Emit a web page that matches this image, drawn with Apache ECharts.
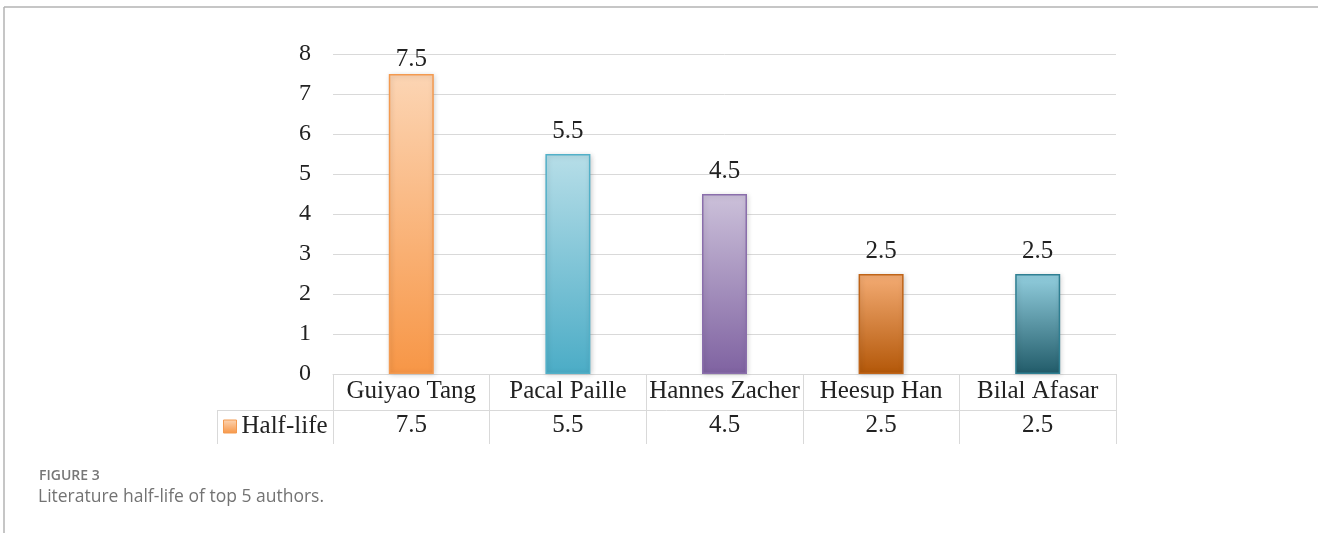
<!DOCTYPE html>
<html>
<head>
<meta charset="utf-8">
<script src="https://cdn.jsdelivr.net/npm/echarts@6/dist/echarts.min.js"></script>
<style>
html,body{margin:0;padding:0;background:#fff;}
#chart{width:1318px;height:533px;}
</style>
</head>
<body>
<div id="chart"></div>
<script>
const categories = ['Guiyao Tang', 'Pacal Paille', 'Hannes Zacher', 'Heesup Han', 'Bilal Afasar'];
const halfLife = [7.5, 5.5, 4.5, 2.5, 2.5];
const seriesName = 'Half-life';
const yTicks = [0, 1, 2, 3, 4, 5, 6, 7, 8];
const captionLabel = 'FIGURE 3';
const captionText = 'Literature half-life of top 5 authors.';

const topColors = ['#fcd5b4', '#b7dee8', '#ccc1da', '#f4ac74', '#93cfdf'];
const bottomColors = ['#f79646', '#4bacc6', '#7f62a1', '#b35708', '#215b69'];
const borderColors = ['#f39a50', '#52b0c8', '#8a6eab', '#bf6418', '#2f7f92'];

const SERIF = '"Liberation Serif", "Times New Roman", serif';
const SANS = '"Open Sans", "Noto Sans", sans-serif';

const G = {left: 333, right: 1116, top: 54, bottom: 374};
const W = 1318, H = 533;
const ROW1 = 36, ROW2 = 70;
const yMax = yTicks[yTicks.length - 1];
const pxPerUnit = (G.bottom - G.top) / (yMax - yTicks[0]);

function grad(i) {
  return new echarts.graphic.LinearGradient(0, 0, 0, 1, [
    {offset: 0, color: topColors[i]},
    {offset: 1, color: bottomColors[i]}
  ]);
}

const chart = echarts.init(document.getElementById('chart'), null, {renderer: 'canvas'});

const option = {
  animation: false,
  backgroundColor: '#fff',
  title: [{
    text: captionLabel,
    left: 39, top: 469, padding: 0,
    textStyle: {fontFamily: SANS, fontSize: 14, fontWeight: 600, color: '#777'}
  }, {
    text: captionText,
    left: 38, top: 488, padding: 0,
    textStyle: {fontFamily: SANS, fontSize: 17.5, fontWeight: 'normal', color: '#737373'}
  }],
  legend: {
    data: [seriesName],
    left: 223, top: 414, padding: 0,
    itemWidth: 13, itemHeight: 13, itemGap: 4,
    icon: 'rect',
    textStyle: {fontFamily: SERIF, fontSize: 25, color: '#222'},
    itemStyle: {color: grad(0), borderColor: borderColors[0], borderWidth: 1}
  },
  grid: {left: G.left, right: W - G.right, top: G.top, bottom: H - G.bottom, containLabel: false},
  xAxis: [{
    type: 'category',
    data: categories,
    position: 'bottom',
    axisLine: {show: true, lineStyle: {color: '#d9d9d9', width: 1}},
    axisTick: {show: true, interval: 0, length: ROW2, lineStyle: {color: '#d9d9d9', width: 1}},
    axisLabel: {interval: 0, margin: 5, fontFamily: SERIF, fontSize: 25, color: '#222'},
    splitLine: {show: false}
  }, {
    type: 'category',
    data: categories,
    position: 'bottom',
    offset: ROW1,
    axisLine: {show: false},
    axisTick: {show: false},
    axisLabel: {
      interval: 0, margin: 3, fontFamily: SERIF, fontSize: 25, color: '#222',
      formatter: function (v, i) { return String(halfLife[i]); }
    }
  }],
  yAxis: {
    type: 'value',
    min: yTicks[0], max: yMax, interval: 1,
    axisLine: {show: false},
    axisTick: {show: false},
    axisLabel: {margin: 22, fontFamily: SERIF, fontSize: 24, color: '#222'},
    splitLine: {show: true, lineStyle: {color: '#d9d9d9', width: 1}}
  },
  series: [{
    name: seriesName,
    type: 'bar',
    xAxisIndex: 0,
    barWidth: 45,
    itemStyle: {color: grad(0), borderColor: borderColors[0]},
    data: halfLife.map(function (v, i) {
      // labels are kept inside the plot area (as the source does)
      const room = (yMax - v) * pxPerUnit;
      return {
        value: v,
        label: {distance: room < 36 ? 2 : 10},
        itemStyle: {
          color: grad(i), borderColor: borderColors[i], borderWidth: 1.5,
          shadowBlur: 5, shadowColor: 'rgba(0,0,0,0.18)', shadowOffsetX: 1, shadowOffsetY: 1
        }
      };
    }),
    label: {
      show: true, position: 'top', distance: 10,
      fontFamily: SERIF, fontSize: 25, color: '#222'
    }
  }],
  graphic: [
    {type: 'line', shape: {x1: 4, y1: 7, x2: W, y2: 7}, style: {stroke: '#b3b3b3', lineWidth: 1.5}, silent: true},
    {type: 'line', shape: {x1: 4, y1: 7, x2: 4, y2: H}, style: {stroke: '#b3b3b3', lineWidth: 1.5}, silent: true},
    {type: 'line', shape: {x1: 217, y1: G.bottom + ROW1 + 0.5, x2: G.right, y2: G.bottom + ROW1 + 0.5}, style: {stroke: '#d9d9d9', lineWidth: 1}, silent: true},
    {type: 'line', shape: {x1: 217.5, y1: G.bottom + ROW1, x2: 217.5, y2: G.bottom + ROW2}, style: {stroke: '#d9d9d9', lineWidth: 1}, silent: true}
  ]
};

chart.setOption(option);
</script>
</body>
</html>
